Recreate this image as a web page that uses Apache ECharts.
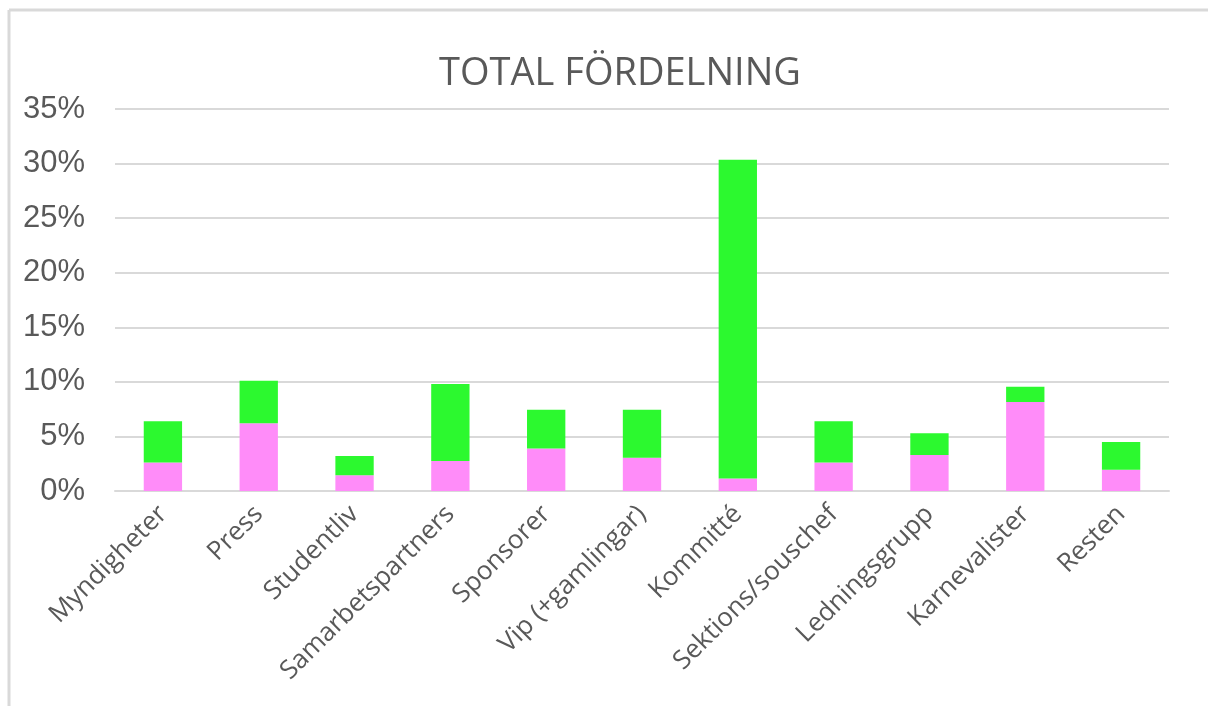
<!DOCTYPE html>
<html lang="sv">
  <head>
    <meta charset="UTF-8" />
    <title>Total fördelning</title>
    <script src="https://cdn.jsdelivr.net/npm/echarts@6/dist/echarts.min.js"></script>
    <style>
      html, body { margin: 0; padding: 0; background: #fff; }
      #chart { width: 1208px; height: 706px; }
    </style>
  </head>
  <body>
    <div id="chart"></div>
    <script>
      // categories and values (share of total, %)
      const categories = [
        "Myndigheter", "Press", "Studentliv", "Samarbetspartners", "Sponsorer",
        "Vip (+gamlingar)", "Kommitté", "Sektions/souschef", "Ledningsgrupp",
        "Karnevalister", "Resten"
      ];
      const pinkValues = [2.6, 6.2, 1.45, 2.75, 3.9, 3.05, 1.15, 2.6, 3.3, 8.15, 1.95];
      const greenValues = [3.8, 3.9, 1.75, 7.05, 3.55, 4.4, 29.2, 3.8, 2.0, 1.4, 2.55];
      const yTicks = [0, 5, 10, 15, 20, 25, 30, 35];

      const grey = "#595959";
      const lineGrey = "#d9d9d9";

      const myChart = echarts.init(document.getElementById("chart"));

      const option = {
        animation: false,
        title: {
          text: "TOTAL FÖRDELNING",
          left: 615,
          top: 50,
          textAlign: "center",
          textStyle: {
            fontFamily: "Open Sans",
            fontSize: 38,
            fontWeight: "normal",
            color: grey
          }
        },
        grid: { left: 115, right: 39, top: 109, bottom: 215 },
        xAxis: {
          type: "category",
          data: categories,
          axisTick: { show: false },
          axisLine: { lineStyle: { color: lineGrey, width: 2 } },
          axisLabel: {
            rotate: 45,
            interval: 0,
            margin: 19,
            fontFamily: "Open Sans",
            fontSize: 26,
            color: grey
          }
        },
        yAxis: {
          type: "value",
          min: yTicks[0],
          max: yTicks[yTicks.length - 1],
          interval: 5,
          axisLine: { show: false },
          axisTick: { show: false },
          splitLine: { lineStyle: { color: lineGrey, width: 2 } },
          axisLabel: {
            margin: 30,
            fontFamily: "Liberation Sans",
            fontSize: 31,
            color: grey,
            formatter: (v) => v + "%"
          }
        },
        series: [
          {
            name: "pink",
            type: "bar",
            stack: "total",
            barWidth: "40%",
            data: pinkValues,
            itemStyle: { color: "#ff8cf9" }
          },
          {
            name: "green",
            type: "bar",
            stack: "total",
            barWidth: "40%",
            data: greenValues,
            itemStyle: { color: "#2cf92f" }
          }
        ],
        graphic: [
          {
            type: "line",
            shape: { x1: 9, y1: 10, x2: 1208, y2: 10 },
            style: { stroke: lineGrey, lineWidth: 3 }
          },
          {
            type: "line",
            shape: { x1: 9, y1: 10, x2: 9, y2: 706 },
            style: { stroke: lineGrey, lineWidth: 3 }
          }
        ]
      };
      myChart.setOption(option);
    </script>
  </body>
</html>
